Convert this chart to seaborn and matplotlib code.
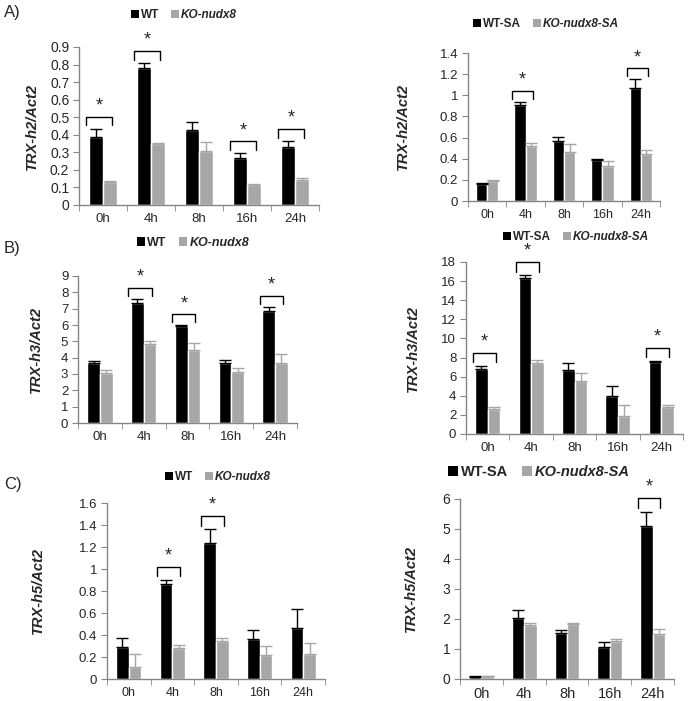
#TRX-h expression bar charts, WT vs KO-nudx8, untreated and SA treated
import numpy as np
import pandas as pd
import matplotlib.pyplot as plt
import seaborn as sns
from matplotlib.patches import Patch
from matplotlib.ticker import FuncFormatter, FixedLocator

sns.set_style("white")
plt.rcParams['font.family'] = ['Liberation Sans', 'DejaVu Sans']

times = ['0h', '4h', '8h', '16h', '24h']

# A) TRX-h2
h2_wt = [0.39, 0.78, 0.43, 0.265, 0.33]
h2_wt_err = [0.045, 0.03, 0.045, 0.03, 0.035]
h2_ko = [0.13, 0.345, 0.305, 0.115, 0.145]
h2_ko_err = [0.005, 0.01, 0.055, 0.005, 0.01]
h2_sig = ['0h', '4h', '16h', '24h']

h2_wtsa = [0.165, 0.91, 0.57, 0.385, 1.065]
h2_wtsa_err = [0.005, 0.03, 0.04, 0.01, 0.085]
h2_kosa = [0.185, 0.525, 0.465, 0.335, 0.445]
h2_kosa_err = [0.01, 0.025, 0.075, 0.04, 0.04]
h2_sa_sig = ['4h', '24h']

# B) TRX-h3
h3_wt = [3.65, 7.35, 5.95, 3.65, 6.85]
h3_wt_err = [0.15, 0.25, 0.03, 0.2, 0.25]
h3_ko = [3.05, 4.85, 4.45, 3.15, 3.65]
h3_ko_err = [0.2, 0.15, 0.45, 0.2, 0.55]
h3_sig = ['4h', '8h', '24h']

h3_wtsa = [6.8, 16.3, 6.65, 3.95, 7.5]
h3_wtsa_err = [0.35, 0.3, 0.8, 1.1, 0.15]
h3_kosa = [2.65, 7.4, 5.5, 1.9, 2.85]
h3_kosa_err = [0.2, 0.35, 0.85, 1.15, 0.15]
h3_sa_sig = ['0h', '4h', '24h']

# C) TRX-h5
h5_wt = [0.29, 0.86, 1.24, 0.36, 0.465]
h5_wt_err = [0.08, 0.04, 0.12, 0.09, 0.17]
h5_ko = [0.11, 0.28, 0.35, 0.215, 0.23]
h5_ko_err = [0.12, 0.025, 0.02, 0.085, 0.1]
h5_sig = ['4h', '8h']

h5_wtsa = [0.08, 2.03, 1.52, 1.07, 5.1]
h5_wtsa_err = [0.01, 0.27, 0.1, 0.15, 0.48]
h5_kosa = [0.1, 1.8, 1.83, 1.27, 1.5]
h5_kosa_err = [0.01, 0.08, 0.05, 0.05, 0.17]
h5_sa_sig = ['24h']

colors = ['black', '#a6a6a6']
axcol = '#868686'

fig = plt.figure(figsize=(6.97, 7.01), dpi=100)
W, H = 697, 701


def make_ax(x0, x1, ytop, ybot):
    return fig.add_axes([x0 / W, (H - ybot) / H, (x1 - x0) / W, (ybot - ytop) / H])


def panel(ax, wt, wt_err, ko, ko_err, sig, names, ylabel, ymax, ystep,
          fs_y, fs_x, fs_leg, leg_xy, lab_dx):
    df = pd.DataFrame({'time': times * 2,
                       'value': wt + ko,
                       'line': [names[0]] * 5 + [names[1]] * 5})
    sns.barplot(data=df, x='time', y='value', hue='line', palette=colors,
                width=0.58, errorbar=None, saturation=1, legend=False, ax=ax)
    for cont, err, col in zip(ax.containers, [wt_err, ko_err], colors):
        xs = [p.get_x() + p.get_width() / 2 for p in cont.patches]
        hs = [p.get_height() for p in cont.patches]
        ax.errorbar(xs, hs, yerr=[np.zeros(5), err], fmt='none', ecolor=col,
                    elinewidth=1.0, capsize=4.5, capthick=1.0)
    # significance brackets
    tops = np.maximum(np.array(wt) + wt_err, np.array(ko) + ko_err)
    for t in sig:
        i = times.index(t)
        yb = tops[i] + 0.075 * ymax
        leg = 0.055 * ymax
        ax.plot([i - 0.35, i - 0.35, i + 0.18, i + 0.18], [yb - leg, yb, yb, yb - leg],
                color='black', lw=1.0, clip_on=False)
        ax.text(i - 0.085, yb + 0.015 * ymax, '*', ha='center', va='bottom',
                fontsize=13, clip_on=False)
    ax.set_ylim(0, ymax)
    ax.set_xlim(-0.5, 4.5)
    ticks = np.arange(0, ymax + ystep / 2, ystep)
    ax.set_yticks(ticks)
    ax.yaxis.set_major_formatter(FuncFormatter(lambda v, p: f'{round(v, 2):g}'))
    ax.xaxis.set_minor_locator(FixedLocator(np.arange(-0.5, 5, 1)))
    ax.tick_params(axis='x', which='major', length=0, labelsize=fs_x, pad=6)
    ax.tick_params(axis='x', which='minor', length=4, color=axcol, direction='out',
                   bottom=True)
    ax.tick_params(axis='y', length=4, color=axcol, direction='out', left=True,
                   labelsize=fs_y, pad=3)
    for s in ['top', 'right']:
        ax.spines[s].set_visible(False)
    for s in ['left', 'bottom']:
        ax.spines[s].set_color(axcol)
        ax.spines[s].set_linewidth(1.0)
    ax.set_xlabel('')
    ax.set_ylabel(ylabel, fontsize=10.5, fontweight='bold', fontstyle='italic')
    bbox = ax.get_position()
    ax.yaxis.set_label_coords(-lab_dx / (bbox.width * W), 0.5)
    handles = [Patch(facecolor=c, edgecolor='none') for c in colors]
    leg = fig.legend(handles, names, loc='center', bbox_to_anchor=leg_xy,
                     ncol=2, frameon=False, fontsize=fs_leg, handlelength=0.65,
                     handleheight=0.65, handletextpad=0.2, columnspacing=1.0,
                     borderaxespad=0)
    for k, txt in enumerate(leg.get_texts()):
        txt.set_fontweight('bold')
        if k == 1:
            txt.set_fontstyle('italic')


wt_names = ['WT', 'KO-nudx8']
sa_names = ['WT-SA', 'KO-nudx8-SA']

axA1 = make_ax(79, 319, 47, 205)
panel(axA1, h2_wt, h2_wt_err, h2_ko, h2_ko_err, h2_sig, wt_names, 'TRX-h2/Act2',
      0.9, 0.1, 10, 9.5, 8.5, (184 / W, 1 - 15 / H), 40)
axA2 = make_ax(468, 660, 53, 201)
panel(axA2, h2_wtsa, h2_wtsa_err, h2_kosa, h2_kosa_err, h2_sa_sig, sa_names,
      'TRX-h2/Act2', 1.4, 0.2, 9.5, 9, 8.5, (546 / W, 1 - 24 / H), 58)

axB1 = make_ax(78, 297, 276, 423)
panel(axB1, h3_wt, h3_wt_err, h3_ko, h3_ko_err, h3_sig, wt_names, 'TRX-h3/Act2',
      9, 1, 9.5, 9.5, 9, (193 / W, 1 - 243 / H), 35)
axB2 = make_ax(466, 683, 262, 434)
panel(axB2, h3_wtsa, h3_wtsa_err, h3_kosa, h3_kosa_err, h3_sa_sig, sa_names,
      'TRX-h3/Act2', 18, 2, 9.5, 9.5, 8.5, (576 / W, 1 - 237 / H), 46)

axC1 = make_ax(107, 325, 503, 679)
panel(axC1, h5_wt, h5_wt_err, h5_ko, h5_ko_err, h5_sig, wt_names, 'TRX-h5/Act2',
      1.6, 0.2, 9.5, 9, 8.5, (218 / W, 1 - 477 / H), 62)
axC2 = make_ax(460, 674, 499, 679)
panel(axC2, h5_wtsa, h5_wtsa_err, h5_kosa, h5_kosa_err, h5_sa_sig, sa_names,
      'TRX-h5/Act2', 6, 1, 10, 10.5, 10.5, (539 / W, 1 - 472 / H), 42)

for lab, y in [('A)', 12), ('B)', 248), ('C)', 484)]:
    fig.text(4 / W, 1 - y / H, lab, fontsize=12, va='center', ha='left')

fig.savefig('out.png', dpi=100)
